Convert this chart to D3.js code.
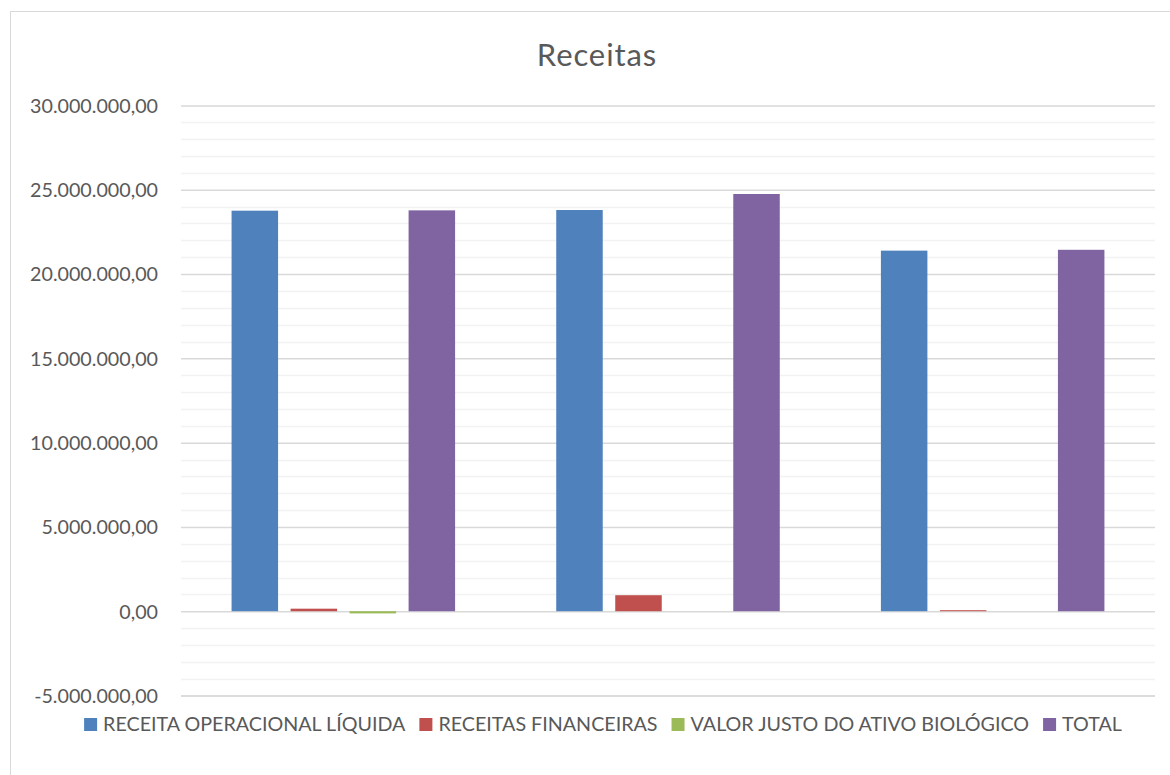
<!DOCTYPE html>
<html>
<head>
<meta charset="utf-8">
<script src="https://cdn.jsdelivr.net/npm/d3@7"></script>
<style>
  html, body { margin: 0; padding: 0; background: #fff; }
  svg { display: block; }
</style>
</head>
<body>
<svg id="chart" width="1170" height="775"></svg>
<script>
// Receitas - clustered columns
const categories = ['1', '2', '3'];
const seriesNames = ['RECEITA OPERACIONAL LÍQUIDA', 'RECEITAS FINANCEIRAS', 'VALOR JUSTO DO ATIVO BIOLÓGICO', 'TOTAL'];
const seriesColors = ['#4f81bd', '#c0504d', '#9bbb59', '#8064a2'];
const receitaOperacional = [23760000, 23800000, 21390000];
const receitasFinanceiras = [150000, 950000, 60000];
const valorJusto = [-130000, 0, 0];
const total = [23780000, 24750000, 21440000];
const yTicks = [-5000000, 0, 5000000, 10000000, 15000000, 20000000, 25000000, 30000000];

const values = [receitaOperacional, receitasFinanceiras, valorJusto, total];

const svg = d3.select('#chart');
const font = 'Lato, sans-serif';

const locale = d3.formatLocale({ decimal: ',', thousands: '.', grouping: [3], currency: ['R$', ''], minus: '-' });
const fmt = locale.format(',.2f');

const plot = { left: 181, right: 1155, top: 105.5, bottom: 695.5 };

// chart border
svg.append('rect')
    .attr('x', 10.5)
    .attr('y', 11.5)
    .attr('width', 1200)
    .attr('height', 800)
    .attr('fill', '#fff')
    .attr('stroke', '#d9d9d9')
    .attr('stroke-width', 1);

const y = d3.scaleLinear()
    .domain([-5000000, 30000000])
    .range([plot.bottom, plot.top]);

const x = d3.scaleBand()
    .domain(categories)
    .range([plot.left, plot.right])
    .paddingInner(0)
    .paddingOuter(0);

const xs = d3.scaleBand()
    .domain(seriesNames)
    .range([0, x.bandwidth()])
    .paddingInner(0.212)
    .paddingOuter(0.857);

// minor gridlines
const minor = d3.range(-5000000, 30000001, 1000000).filter(v => v % 5000000 !== 0);
svg.append('g')
    .selectAll('line')
    .data(minor)
    .enter()
    .append('line')
    .attr('x1', plot.left)
    .attr('x2', plot.right)
    .attr('y1', d => Math.round(y(d)) + 0.5)
    .attr('y2', d => Math.round(y(d)) + 0.5)
    .attr('stroke', '#f2f2f2')
    .attr('stroke-width', 1.5);

// major gridlines + labels
const yAxis = d3.axisLeft(y)
    .tickValues(yTicks)
    .tickFormat(fmt)
    .tickSize(-(plot.right - plot.left))
    .tickPadding(23);

const gy = svg.append('g')
    .attr('transform', `translate(${plot.left},0)`)
    .call(yAxis);
gy.select('.domain').remove();
gy.selectAll('.tick line')
    .attr('stroke', d => d === -5000000 ? '#d0d0d0' : '#d9d9d9')
    .attr('stroke-width', 1.5);
gy.selectAll('.tick text')
    .attr('fill', '#595959')
    .attr('font-family', font)
    .attr('font-size', '19.7px')
    .attr('dy', '0.35em');

// bars
const groups = svg.append('g')
    .selectAll('g')
    .data(categories)
    .enter()
    .append('g')
    .attr('transform', d => `translate(${x(d)},0)`);

groups.selectAll('rect')
    .data((c, i) => seriesNames.map((s, k) => ({ s, k, v: values[k][i] })))
    .enter()
    .append('rect')
    .attr('x', d => xs(d.s))
    .attr('width', xs.bandwidth())
    .attr('y', d => y(Math.max(0, d.v)))
    .attr('height', d => Math.abs(y(d.v) - y(0)))
    .attr('fill', d => seriesColors[d.k]);

// title
svg.append('text')
    .attr('x', 597)
    .attr('y', 66)
    .attr('text-anchor', 'middle')
    .attr('fill', '#595959')
    .attr('font-family', font)
    .attr('font-size', '31px')
    .attr('letter-spacing', '0.9px')
    .text('Receitas');

// legend
const legend = svg.append('g');
const items = legend.selectAll('g')
    .data(seriesNames)
    .enter()
    .append('g');

items.append('rect')
    .attr('width', 13)
    .attr('height', 13)
    .attr('y', -13)
    .attr('fill', (d, i) => seriesColors[i]);

items.append('text')
    .attr('x', 19)
    .attr('y', 0)
    .attr('fill', '#595959')
    .attr('font-family', font)
    .attr('font-size', '19.7px')
    .text(d => d);

let offset = 0;
items.each(function() {
    const w = d3.select(this).select('text').node().getComputedTextLength();
    d3.select(this).attr('transform', `translate(${offset},0)`);
    offset += 19 + w + 14;
});
offset -= 14;
legend.attr('transform', `translate(${603 - offset / 2},731)`);
</script>
</body>
</html>
